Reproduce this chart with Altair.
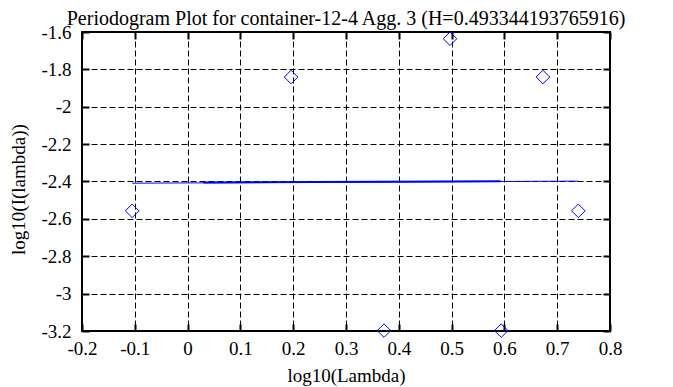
import altair as alt
import pandas as pd

# Periodogram points (log10 lambda, log10 I(lambda))
px = [-0.105, 0.196, 0.372, 0.497, 0.594, 0.673, 0.740]
py = [-2.557, -1.841, -3.198, -1.636, -3.198, -1.841, -2.557]

# fitted line (thin) and fitted segment (thick)
fit_x = [-0.105, 0.740]
fit_y = [-2.409, -2.398]
seg_x = [0.030, 0.593]
seg_y = [-2.405, -2.399]

x_ticks = [-0.2, -0.1, 0.0, 0.1, 0.2, 0.3, 0.4, 0.5, 0.6, 0.7, 0.8]
y_ticks = [-3.2, -3.0, -2.8, -2.6, -2.4, -2.2, -2.0, -1.8, -1.6]

title_text = "Periodogram Plot for container-12-4 Agg. 3 (H=0.493344193765916)"

pts = pd.DataFrame({"x": px, "y": py})
fit = pd.DataFrame({"x": fit_x, "y": fit_y})
seg = pd.DataFrame({"x": seg_x, "y": seg_y})

FONT = "Liberation Serif, Times New Roman, DejaVu Serif, serif"
BLUE = "#0000ff"

xscale = alt.Scale(domain=[-0.2, 0.8], nice=False, zero=False)
yscale = alt.Scale(domain=[-3.2, -1.6], nice=False, zero=False)

lab = "toString(round(datum.value*10)/10)"

x_axis = alt.Axis(
    values=x_ticks, labelExpr=lab, orient="bottom", offset=-7,
    tickSize=7, labelPadding=8, labelOverlap=False, labelFlush=False,
    grid=True, gridDash=[6, 3], gridColor="black", gridOpacity=1, gridWidth=1,
    title="log10(Lambda)", titleX=264, titleY=57, titleAlign="center",
    titleBaseline="alphabetic",
)
y_axis = alt.Axis(
    values=y_ticks, labelExpr=lab, orient="left", offset=-7,
    tickSize=7, labelPadding=11, labelOverlap=False, labelFlush=False,
    grid=True, gridDash=[6, 3], gridColor="black", gridOpacity=1, gridWidth=1,
    title="log10(I(lambda))", titleX=-65, titleY=157, titleAlign="center",
    titleBaseline="alphabetic",
)
x_axis_top = alt.Axis(
    values=x_ticks, orient="top", offset=-7, tickSize=7,
    labels=False, grid=False, title=None,
)
y_axis_right = alt.Axis(
    values=y_ticks, orient="right", offset=-7, tickSize=7,
    labels=False, grid=False, title=None,
)

points = alt.Chart(pts).mark_point(
    shape="diamond", filled=False, color=BLUE, strokeWidth=1, size=185, opacity=1
).encode(
    x=alt.X("x:Q", scale=xscale, axis=x_axis),
    y=alt.Y("y:Q", scale=yscale, axis=y_axis),
)

fit_line = alt.Chart(fit).mark_line(color=BLUE, strokeWidth=1).encode(
    x=alt.X("x:Q", scale=xscale, axis=x_axis_top),
    y=alt.Y("y:Q", scale=yscale, axis=y_axis_right),
)

seg_line = alt.Chart(seg).mark_line(color=BLUE, strokeWidth=2).encode(
    x=alt.X("x:Q", scale=xscale, axis=None),
    y=alt.Y("y:Q", scale=yscale, axis=None),
)

chart = alt.layer(points, fit_line, seg_line).resolve_axis(
    x="independent", y="independent"
).properties(
    width=528,
    height=299,
    background="white",
    autosize=alt.AutoSizeParams(type="none"),
    padding={"left": 74, "top": 24, "right": 55, "bottom": 56},
    title=alt.Title(
        title_text, font=FONT, fontSize=20, fontWeight="normal", color="black",
        anchor="middle", offset=4, dy=10,
    ),
).configure_view(
    stroke="black", strokeWidth=2
).configure_axis(
    domain=False,
    ticks=True, tickColor="black", tickWidth=2,
    labelFont=FONT, labelFontSize=19, labelColor="black",
    titleFont=FONT, titleFontSize=19, titleFontWeight="normal", titleColor="black",
)

chart.save("out.html", embed_options={"renderer": "svg", "actions": False})
